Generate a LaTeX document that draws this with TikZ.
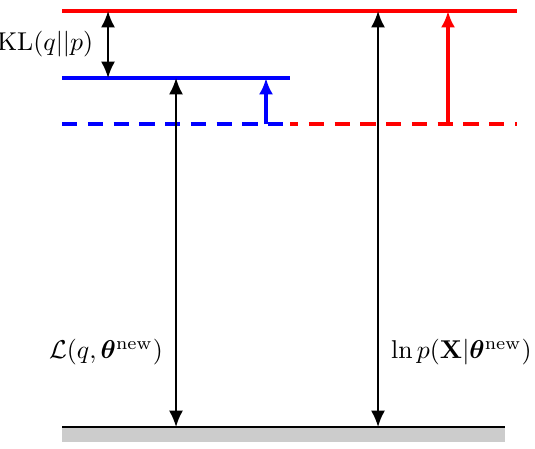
\documentclass[tikz,border=0pt]{standalone}
\usepackage{amsmath,amssymb,bm}
\usetikzlibrary{arrows.meta}

\begin{document}
\begin{tikzpicture}[x=0.015cm,y=-0.015cm,
    level/.style={line width=1.5pt},
    gap/.style={line width=0.9pt,{Latex[length=7pt,width=6pt]}-{Latex[length=7pt,width=6pt]}},
    upd/.style={line width=1.5pt,-{Latex[length=7pt,width=6pt]}},
    dashlevel/.style={line width=1.5pt,dash pattern=on 6.5pt off 4.5pt},
    lab/.style={scale=1.1}]
  \useasboundingbox (0,0) rectangle (535,448);
  % levels
  \coordinate (lnpL) at (62,11);   \coordinate (lnpR) at (517,11);
  \coordinate (newL) at (62,78);   \coordinate (newR) at (290,78);
  \coordinate (oldL) at (62,124);  \coordinate (oldM) at (290,124);
  \coordinate (oldR) at (517,124);
  \coordinate (botL) at (62,427);  \coordinate (botR) at (505,427);
  \fill[black!20] (botL) rectangle (505,442);
  \draw[line width=1.2pt] (botL) -- (botR);
  \draw[level,red] (lnpL) -- (lnpR);
  \draw[level,blue] (newL) -- (newR);
  \draw[dashlevel,blue] (oldL) -- (oldM);
  \draw[dashlevel,red,dash phase=3pt] (oldM) -- (oldR);
  % gaps
  \draw[gap] (108,11) -- (108,78) node[lab,midway,left=2pt] (kl) {$\mathrm{KL}(q||p)$};
  \draw[gap] (176,78) -- (176,427);
  \draw[gap] (378,11) -- (378,427);
  \node[lab,anchor=east] (lb) at (172,352) {$\mathcal{L}(q,\bm{\theta}^{\mathrm{new}})$};
  \node[lab,anchor=west] (ev) at (382,352) {$\ln p(\mathbf{X}|\bm{\theta}^{\mathrm{new}})$};
  % updates
  \draw[upd,blue] (266,124) -- (266,78);
  \draw[upd,red] (448,124) -- (448,11);
\end{tikzpicture}
\end{document}
